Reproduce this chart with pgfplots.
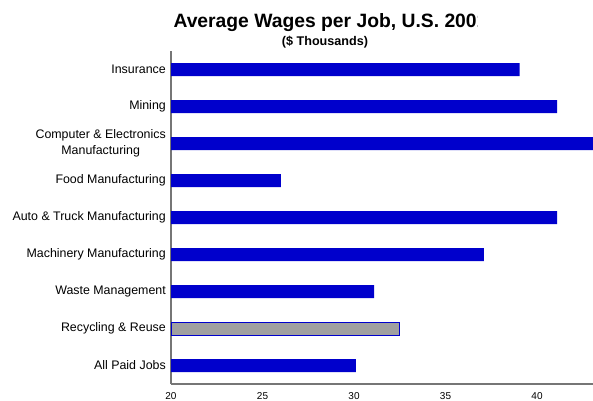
\documentclass[border=0pt]{standalone}
\usepackage{fontspec}
\setmainfont{Liberation Sans}
\usepackage{pgfplots}
\pgfplotsset{compat=1.18}
\definecolor{barblue}{HTML}{0000CC}
\definecolor{bargray}{HTML}{A0A0A0}
\definecolor{axisgray}{HTML}{767676}
\begin{document}
\begin{tikzpicture}[x=1pt,y=1pt]
\begin{axis}[
  at={(171pt,16pt)}, anchor=south west,
  scale only axis,
  width=549pt, height=333pt,
  xmin=20, xmax=50,
  ymin=-0.5, ymax=8.5,
  y dir=reverse,
  xbar, bar width=13pt, bar shift=0pt,
  axis x line*=bottom, axis y line*=left,
  axis line style={axisgray, line width=1.3pt, -},
  xtick={20,25,30,35,40},
  ytick={0,1,2,3,4,5,6,7,8},
  yticklabels={Insurance, Mining, {Computer \& Electronics\\Manufacturing}, Food Manufacturing, Auto \& Truck Manufacturing, Machinery Manufacturing, Waste Management, Recycling \& Reuse, All Paid Jobs},
  major tick length=0pt,
  yticklabel style={font=\fontsize{12.4}{16}\selectfont, align=center, inner sep=0pt, xshift=-5pt},
  xticklabel style={font=\fontsize{10}{12}\selectfont, inner sep=0pt, yshift=-8pt},
  /pgf/number format/assume math mode=true,
  clip=true,
]
\addplot[fill=barblue, draw=none] coordinates {(39.05,0) (41.1,1) (45,2) (26.0,3) (41.1,4) (37.1,5) (31.1,6) (30.1,8)};
\addplot[fill=bargray, draw=barblue, line width=0.8pt] coordinates {(32.5,7)};
\end{axis}
\begin{scope}
\clip (0,0) rectangle (477.5,400);
\node[anchor=base, inner sep=0pt, font=\fontsize{19.3}{22}\selectfont\bfseries] at (330.5,372) {Average Wages per Job, U.S. 2001};
\end{scope}
\node[anchor=base, inner sep=0pt, font=\fontsize{12.6}{15}\selectfont\bfseries] at (325,354.5) {(\$ Thousands)};
\pgfresetboundingbox
\useasboundingbox (0,0) rectangle (593,400);
\end{tikzpicture}
\end{document}
